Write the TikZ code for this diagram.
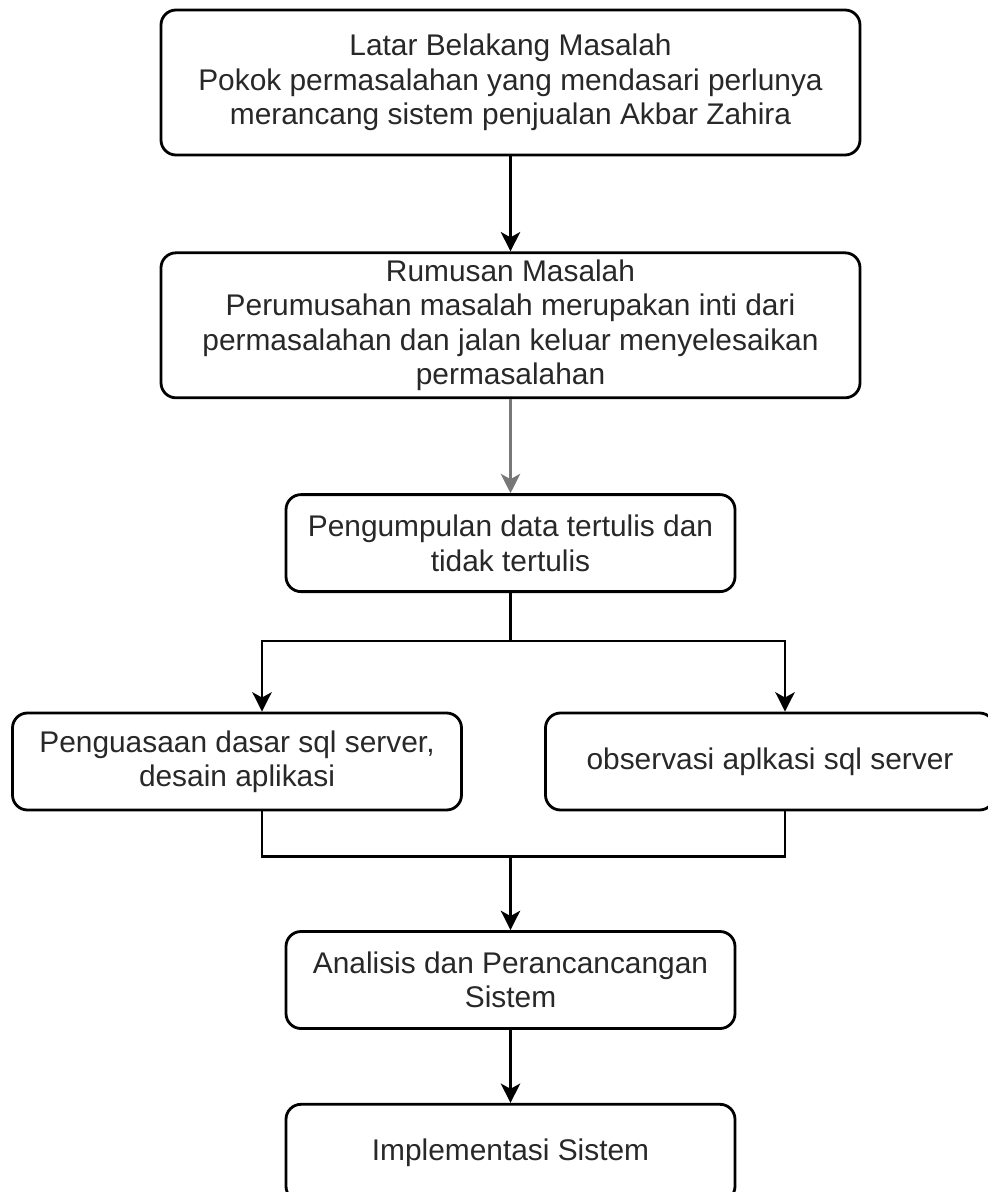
\documentclass[tikz,border=0pt]{standalone}
\usepackage{fontspec}
\setmainfont{Liberation Sans}
\usepackage{tikz}
\usetikzlibrary{positioning, arrows.meta}
\usepackage{xcolor}
\definecolor{textGray}{RGB}{40, 40, 40}
\definecolor{lineGray}{RGB}{120, 120, 120}

\begin{document}
\begin{tikzpicture}[
    node distance=0pt,
    every node/.style={font=\fontsize{17}{19.6}\selectfont, text=textGray},
    stepbox/.style={
        rectangle, draw=black, line width=1.6pt, rounded corners=0.3cm,
        minimum width=8.98cm, minimum height=1.94cm, align=center, inner sep=3pt
    },
    widebox/.style={stepbox, minimum width=13.98cm, minimum height=2.9cm},
    arrow/.style={-{Stealth[length=11pt, width=11pt, inset=3pt]}, line width=1.6pt, draw=black}
]
\useasboundingbox[fill=white] (0,0) rectangle (19.74,-23.84);

% --- Top: background and problem statement ------------------------------
\node[widebox] (latar) at (10.21,-1.65) {
    Latar Belakang Masalah\\
    Pokok permasalahan yang mendasari perlunya\\
    merancang sistem penjualan Akbar Zahira
};
\node[widebox, below=1.9cm of latar] (rumusan) {
    Rumusan Masalah\\
    Perumusahan masalah merupakan inti dari\\
    permasalahan dan jalan keluar menyelesaikan\\
    permasalahan
};

% --- Middle: data collection and its two branches -----------------------
\node[stepbox, below=1.88cm of rumusan] (kumpul) {
    Pengumpulan data tertulis dan\\
    tidak tertulis
};
\node[stepbox] (kuasai) at (4.74,-15.23) {
    Penguasaan dasar sql server,\\
    desain aplikasi
};
\node[stepbox] (observasi) at (15.40,-15.23) {observasi aplkasi sql server};

% --- Bottom: analysis and implementation --------------------------------
\node[stepbox] (analisis) at (10.21,-19.60) {
    Analisis dan Perancancangan\\
    Sistem
};
\node[stepbox, below=1.46cm of analisis] (implementasi) {Implementasi Sistem};

% --- Arrows ---------------------------------------------------------------
\coordinate (cabang) at ([yshift=-0.96cm]kumpul.south);
\coordinate (gabung) at ([yshift=1.48cm]analisis.north);
\draw[arrow] (latar) -- (rumusan);
\draw[arrow, draw=lineGray] (rumusan) -- (kumpul);
% split to the left and right branches
\draw[arrow] (kumpul.south) -- (cabang) -| ([xshift=0.5cm]kuasai.north);
\draw[arrow] (cabang) -| ([xshift=0.3cm]observasi.north);
% join both branches again
\draw[line width=1.6pt] ([xshift=0.5cm]kuasai.south) |- (gabung) -| ([xshift=0.3cm]observasi.south);
\draw[arrow] (gabung) -- (analisis);
\draw[arrow] (analisis) -- (implementasi);

\end{tikzpicture}
\end{document}
